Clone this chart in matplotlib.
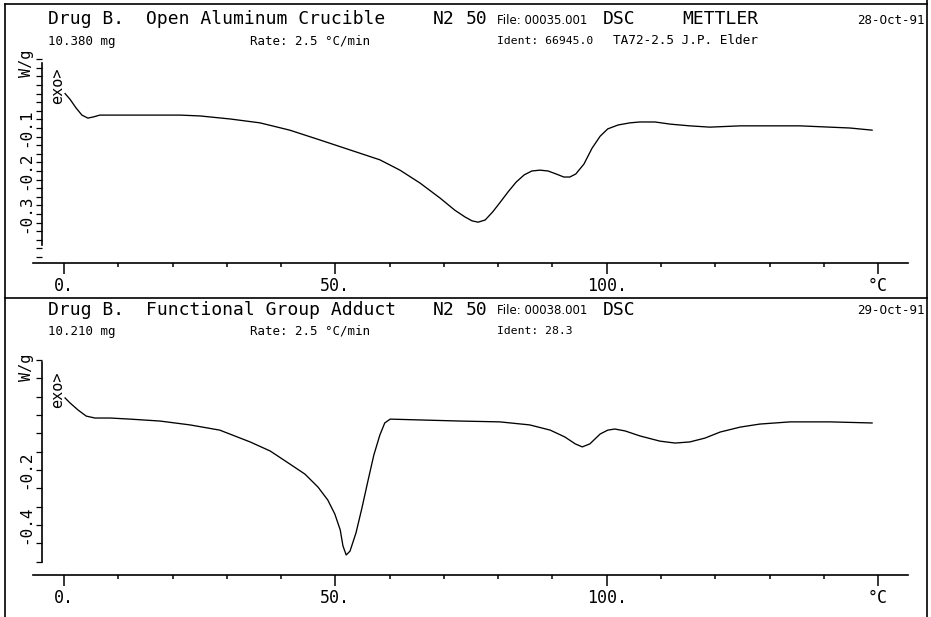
import matplotlib
matplotlib.use("Agg")
import matplotlib.pyplot as plt
from matplotlib.ticker import FixedLocator, MultipleLocator
from matplotlib.lines import Line2D

# ---------------- data ----------------
temp_top = [0.2, 1.1, 2.2, 3.3, 4.4, 5.5, 6.6, 10.3, 15.8, 21.4, 25.1, 30.6, 36.1, 41.6,
            47.2, 52.7, 58.2, 61.9, 65.6, 69.3, 72.0, 73.9, 75.2, 76.3, 77.6, 79.0, 80.3,
            81.8, 83.3, 84.8, 86.2, 87.7, 89.2, 90.7, 92.1, 93.2, 94.3, 95.8, 97.3, 98.8,
            100.2, 102.1, 104.3, 106.1, 108.9, 111.7, 115.3, 119.0, 124.6, 130.1, 135.6,
            141.1, 144.8, 148.9]
heat_top = [-0.020, -0.033, -0.053, -0.070, -0.077, -0.074, -0.070, -0.070, -0.070, -0.070,
            -0.072, -0.079, -0.088, -0.105, -0.128, -0.151, -0.174, -0.198, -0.228, -0.263,
            -0.291, -0.307, -0.316, -0.319, -0.314, -0.295, -0.274, -0.249, -0.226, -0.209,
            -0.200, -0.198, -0.200, -0.207, -0.214, -0.214, -0.207, -0.184, -0.147, -0.119,
            -0.102, -0.093, -0.088, -0.086, -0.086, -0.091, -0.095, -0.098, -0.095, -0.095,
            -0.095, -0.098, -0.100, -0.105]

temp_bot = [0.2, 1.1, 2.6, 4.1, 5.7, 8.5, 12.2, 17.7, 23.2, 28.7, 34.3, 38.0, 41.6, 44.4,
            46.8, 48.6, 49.9, 50.9, 51.4, 52.0, 52.7, 53.8, 54.9, 56.0, 57.1, 58.2, 59.1,
            60.1, 65.6, 73.0, 80.3, 85.8, 89.6, 92.3, 94.2, 95.5, 96.9, 98.8, 100.2, 101.5,
            103.4, 106.1, 109.8, 112.6, 115.3, 118.1, 120.9, 124.6, 128.2, 133.8, 141.1, 148.9]
heat_bot = [0.062, 0.044, 0.018, -0.004, -0.011, -0.011, -0.015, -0.022, -0.036, -0.055,
            -0.098, -0.131, -0.178, -0.215, -0.262, -0.309, -0.360, -0.418, -0.476, -0.509,
            -0.495, -0.429, -0.338, -0.240, -0.145, -0.073, -0.029, -0.015, -0.018, -0.022,
            -0.025, -0.036, -0.055, -0.080, -0.105, -0.116, -0.105, -0.069, -0.055, -0.051,
            -0.058, -0.076, -0.095, -0.102, -0.098, -0.084, -0.062, -0.044, -0.033, -0.025,
            -0.025, -0.029]

xtick_major = [0, 50, 100, 150]
xtick_labels = ["0.", "50.", "100.", "°C"]
ytick_top = [-0.3, -0.2, -0.1]
ytick_top_labels = ["-0.3", "-0.2", "-0.1"]
ytick_bot = [-0.4, -0.2]
ytick_bot_labels = ["-0.4", "-0.2"]

header_top = {
    "title": ["Drug B.", "Open Aluminum Crucible", "N2", "50"],
    "file": "File: 00035.001", "inst": ["DSC", "METTLER"], "date": "28-Oct-91",
    "mass": "10.380 mg", "rate": "Rate: 2.5 °C/min", "ident": "Ident: 66945.0",
    "extra": "TA72-2.5 J.P. Elder",
}
header_bot = {
    "title": ["Drug B.", "Functional Group Adduct", "N2", "50"],
    "file": "File: 00038.001", "inst": ["DSC"], "date": "29-Oct-91",
    "mass": "10.210 mg", "rate": "Rate: 2.5 °C/min", "ident": "Ident: 28.3",
    "extra": None,
}

# ---------------- layout ----------------
W, H = 931, 617
fig = plt.figure(figsize=(W / 100, H / 100), dpi=100)
fig.patch.set_facecolor("white")
MONO = "DejaVu Sans Mono"

X0PX, XSCALE = 64.0, 5.427           # pixel of 0 degC, pixels per degC
AX_L, AX_R = 33, 908


def fx(px):
    return px / W


def fy(py):
    return 1 - py / H


def line(x0, y0, x1, y1, lw=1.2):
    fig.add_artist(Line2D([fx(x0), fx(x1)], [fy(y0), fy(y1)], color="black", lw=lw,
                          transform=fig.transFigure))


def text(x, y, s, size, family=MONO, **kw):
    fig.text(fx(x), fy(y), s, fontsize=size, family=family, va="center", ha="left", **kw)


def panel(row1, row2, wg_y, exo_y, zero_px, kpx, ax_top_px, ax_bot_px, spine_top, spine_bot,
          temps, heats, yt, ytl, yminor, hdr):
    ax = fig.add_axes([fx(AX_L), fy(ax_bot_px), (AX_R - AX_L) / W, (ax_bot_px - ax_top_px) / H])
    ax.set_xlim((AX_L - X0PX) / XSCALE, (AX_R - X0PX) / XSCALE)
    ax.set_ylim(-(ax_bot_px - zero_px) / kpx, -(ax_top_px - zero_px) / kpx)
    ax.patch.set_alpha(0)
    ax.plot(temps, heats, color="black", lw=0.95, clip_on=False)
    for s in ("top", "right"):
        ax.spines[s].set_visible(False)
    ax.spines["bottom"].set_linewidth(1.2)
    ax.spines["left"].set_linewidth(1.2)
    ax.spines["left"].set_position(("data", (42 - X0PX) / XSCALE))
    ax.spines["left"].set_bounds(-(spine_bot - zero_px) / kpx, -(spine_top - zero_px) / kpx)
    ax.xaxis.set_major_locator(FixedLocator(xtick_major))
    ax.xaxis.set_minor_locator(MultipleLocator(10))
    ax.set_xticklabels(xtick_labels, family=MONO, fontsize=12)
    ax.tick_params(axis="x", which="major", length=8, width=1.1, pad=2, direction="out")
    ax.tick_params(axis="x", which="minor", length=3, width=1.1, direction="out")
    ax.yaxis.set_major_locator(FixedLocator(yt))
    ax.yaxis.set_minor_locator(MultipleLocator(yminor))
    ax.set_yticklabels(ytl, family=MONO, fontsize=11.5, rotation=90, va="center")
    ax.tick_params(axis="y", which="both", length=4, width=0.9, pad=2, direction="out")
    # header
    t = hdr["title"]
    text(48, row1, t[0], 13)
    text(146, row1, t[1], 13)
    text(433, row1, t[2], 13)
    text(466, row1, t[3], 13)
    text(497, row1 + 1, hdr["file"], 8.5, family="DejaVu Sans")
    text(603, row1, hdr["inst"][0], 13)
    if len(hdr["inst"]) > 1:
        text(682, row1, hdr["inst"][1], 13)
    text(857, row1 + 1, hdr["date"], 9)
    text(48, row2, hdr["mass"], 9)
    text(250, row2, hdr["rate"], 9)
    text(497, row2, hdr["ident"], 8.2)
    if hdr["extra"]:
        text(613, row2, hdr["extra"], 9.2)
    fig.text(fx(27), fy(wg_y), "W/g", rotation=90, family=MONO, fontsize=11,
             ha="center", va="center")
    fig.text(fx(58), fy(exo_y), "exo>", rotation=90, family=MONO, fontsize=11,
             ha="center", va="center")
    return ax


panel(19, 41, 63, 86, 85, 430, 55, 263, 63, 245, temp_top, heat_top,
      ytick_top, ytick_top_labels, 0.02, header_top)
panel(310, 331, 367, 390, 415, 275, 355, 575, 362, 562, temp_bot, heat_bot,
      ytick_bot, ytick_bot_labels, 0.2 / 3, header_bot)

# frame
line(5, 4, 927, 4)
line(5, 4, 5, 617)
line(927, 0, 927, 617)
line(5, 298, 927, 298)

fig.savefig("out.png", dpi=100, facecolor="white")
